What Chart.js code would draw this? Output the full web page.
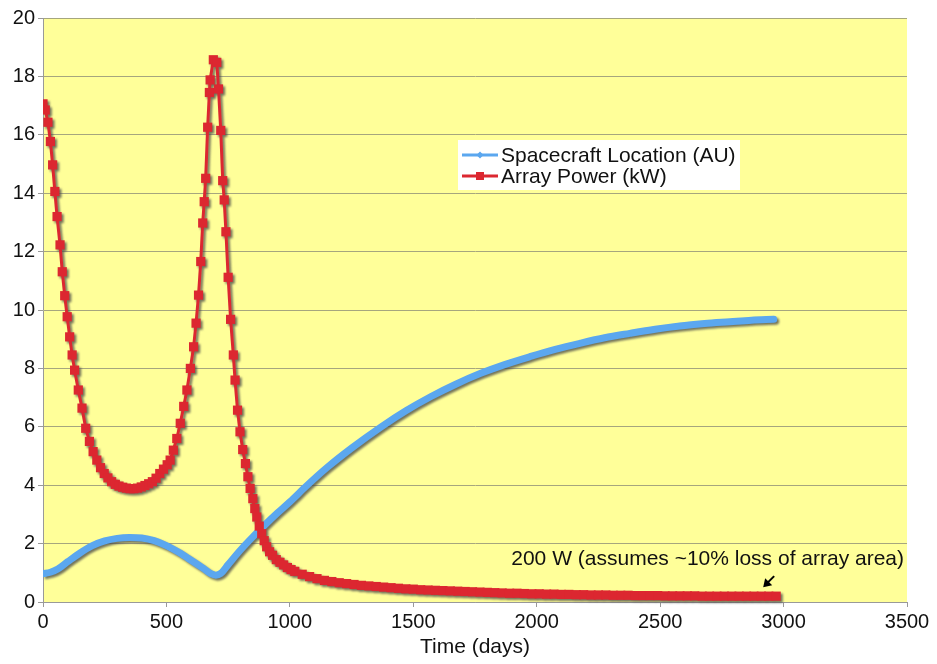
<!DOCTYPE html>
<html>
<head>
<meta charset="utf-8">
<script src="https://cdn.jsdelivr.net/npm/chart.js@4"></script>
<style>
  body { margin: 0; background: #fff; }
  #grafico { display: block; }
</style>
</head>
<body>
<canvas id="grafico" width="937" height="664"></canvas>
<script>
// Datos
const xTicks = [0, 500, 1000, 1500, 2000, 2500, 3000, 3500];
const yTicks = [0, 2, 4, 6, 8, 10, 12, 14, 16, 18, 20];

const blueDays = [0, 30, 60, 100, 150, 200, 250, 300, 350, 400,
  450, 500, 550, 600, 650, 680, 700, 720, 750, 800,
  850, 900, 950, 1000, 1068, 1150, 1250, 1370, 1470, 1570,
  1670, 1773, 1870, 1972, 2075, 2175, 2275, 2377, 2480, 2580,
  2680, 2783, 2870, 2960];
const blueAU = [0.97, 1.02, 1.13, 1.38, 1.68, 1.93, 2.09, 2.18, 2.21, 2.19,
  2.1, 1.93, 1.7, 1.43, 1.15, 0.97, 0.92, 0.98, 1.28, 1.78,
  2.23, 2.65, 3.05, 3.43, 3.98, 4.6, 5.27, 6.0, 6.55, 7.03,
  7.45, 7.83, 8.13, 8.4, 8.65, 8.86, 9.05, 9.2, 9.34, 9.45,
  9.54, 9.6, 9.65, 9.68];

const redDays = [0, 9, 20, 30, 39, 48, 57, 69, 78, 88,
  98, 108, 118, 128, 143, 158, 173, 188, 203, 218,
  233, 248, 263, 278, 293, 308, 323, 338, 353, 368,
  383, 398, 413, 428, 443, 458, 473, 488, 503, 515,
  528, 542, 556, 570, 583, 597, 610, 620, 630, 639,
  647, 653, 659, 667, 674, 677, 690, 704, 711, 720,
  728, 734, 741, 750, 760, 771, 778, 788, 798, 809,
  820, 830, 839, 850, 858, 866, 876, 886, 896, 906,
  918, 930, 945, 960, 975, 990, 1005, 1020, 1050, 1080,
  1110, 1140, 1170, 1200,
  1230, 1260, 1290, 1320, 1350, 1380, 1410, 1440, 1470, 1500,
  1530, 1560, 1590, 1620, 1650, 1680, 1710, 1740, 1770, 1800,
  1830, 1860, 1890, 1920, 1950, 1980, 2010, 2040, 2070, 2100,
  2130, 2160, 2190, 2220, 2250, 2280, 2310, 2340, 2370, 2400,
  2430, 2460, 2490, 2520, 2550, 2580, 2610, 2640, 2670, 2700,
  2730, 2760, 2790, 2820, 2850, 2880, 2910, 2940, 2970];
const redPower = [17.06, 16.85, 16.43, 15.77, 14.97, 14.06, 13.2, 12.23, 11.31, 10.49,
  9.77, 9.08, 8.46, 7.94, 7.26, 6.64, 5.95, 5.5, 5.15, 4.86,
  4.6, 4.4, 4.25, 4.12, 4.03, 3.97, 3.93, 3.9, 3.88, 3.88,
  3.9, 3.94, 3.99, 4.05, 4.12, 4.24, 4.4, 4.55, 4.7, 4.86,
  5.2, 5.6, 6.12, 6.7, 7.26, 8.0, 8.74, 9.55, 10.51, 11.66,
  12.98, 13.71, 14.51, 16.26, 17.45, 17.88, 18.57, 18.48, 17.57, 16.15,
  14.43, 13.77, 12.68, 11.12, 9.68, 8.46, 7.6, 6.57, 5.83, 5.22,
  4.74, 4.29, 3.89, 3.54, 3.2, 2.91, 2.6, 2.34, 2.1, 1.89,
  1.72, 1.6, 1.45, 1.36, 1.27, 1.18, 1.11, 1.05, 0.95, 0.87,
  0.8, 0.74, 0.7, 0.66,
  0.63, 0.6, 0.57, 0.55, 0.53, 0.51, 0.49, 0.47, 0.45, 0.44,
  0.42, 0.41, 0.4, 0.39, 0.38, 0.37, 0.36, 0.35, 0.34, 0.33,
  0.32, 0.31, 0.3, 0.3, 0.29, 0.28, 0.28, 0.27, 0.27, 0.26,
  0.26, 0.25, 0.25, 0.24, 0.24, 0.24, 0.23, 0.23, 0.23, 0.22,
  0.22, 0.22, 0.22, 0.21, 0.21, 0.21, 0.21, 0.21, 0.2, 0.2,
  0.2, 0.2, 0.2, 0.2, 0.2, 0.2, 0.2, 0.2, 0.2];

const seriesNames = ['Spacecraft Location (AU)', 'Array Power (kW)'];
const notaTexto = '200 W (assumes ~10% loss of array area)';

const AZUL = '#5ba7ef';
const ROJO = '#dc2730';
const FUENTE = '"Liberation Sans", Arial, sans-serif';

// fondo amarillo del area de trazado
const fondoPlugin = {
  id: 'fondo',
  beforeDraw(chart) {
    const { ctx, chartArea: a } = chart;
    ctx.save();
    ctx.fillStyle = '#ffff99';
    ctx.fillRect(a.left, a.top, a.right - a.left, a.bottom - a.top);
    ctx.restore();
  }
};

// sombra gris de las series: se dibujan en una capa aparte y se pegan con sombra
let capaBase = null;
const copiar = (c) => {
  const cc = document.createElement('canvas');
  cc.width = c.width;
  cc.height = c.height;
  cc.getContext('2d').drawImage(c, 0, 0);
  return cc;
};
const sombraPlugin = {
  id: 'sombra',
  beforeDatasetsDraw(chart) {
    const c = chart.canvas, ctx = chart.ctx;
    capaBase = copiar(c);
    ctx.save();
    ctx.setTransform(1, 0, 0, 1, 0, 0);
    ctx.clearRect(0, 0, c.width, c.height);
    ctx.restore();
  },
  afterDatasetsDraw(chart) {
    const c = chart.canvas, ctx = chart.ctx;
    const capaSeries = copiar(c);
    ctx.save();
    ctx.setTransform(1, 0, 0, 1, 0, 0);
    ctx.clearRect(0, 0, c.width, c.height);
    ctx.drawImage(capaBase, 0, 0);
    ctx.shadowColor = 'rgba(70,70,70,0.75)';
    ctx.shadowOffsetX = 2;
    ctx.shadowOffsetY = 2;
    ctx.shadowBlur = 2;
    ctx.drawImage(capaSeries, 0, 0);
    ctx.restore();
  }
};

// leyenda y nota
const extrasPlugin = {
  id: 'extras',
  afterDraw(chart) {
    const { ctx, scales } = chart;
    ctx.save();
    // leyenda
    ctx.fillStyle = '#fff';
    ctx.fillRect(458, 140, 282, 50);
    const filas = [
      { y: 155, color: AZUL, tipo: 'diamante' },
      { y: 176, color: ROJO, tipo: 'cuadrado' }
    ];
    ctx.font = '21px ' + FUENTE;
    ctx.textBaseline = 'middle';
    filas.forEach((f, i) => {
      ctx.strokeStyle = f.color;
      ctx.lineWidth = 3;
      ctx.beginPath();
      ctx.moveTo(462, f.y);
      ctx.lineTo(498, f.y);
      ctx.stroke();
      ctx.fillStyle = f.color;
      if (f.tipo === 'diamante') {
        ctx.beginPath();
        ctx.moveTo(480, f.y - 3.5);
        ctx.lineTo(483.5, f.y);
        ctx.lineTo(480, f.y + 3.5);
        ctx.lineTo(476.5, f.y);
        ctx.closePath();
        ctx.fill();
      } else {
        ctx.fillRect(476, f.y - 4, 8, 8);
      }
      ctx.fillStyle = '#111';
      ctx.fillText(seriesNames[i], 501, f.y + 1);
    });

    // nota 200 W
    const x = scales.x, y = scales.y;
    ctx.font = '21px ' + FUENTE;
    ctx.textAlign = 'right';
    ctx.fillStyle = '#111';
    ctx.fillText(notaTexto, x.right - 3, y.getPixelForValue(1.45));
    // flecha
    const ultimo = redDays[redDays.length - 1];
    const px = x.getPixelForValue(ultimo) - 13;
    const py = y.getPixelForValue(redPower[redPower.length - 1]) - 9;
    ctx.strokeStyle = '#000';
    ctx.fillStyle = '#000';
    ctx.lineWidth = 2;
    ctx.beginPath();
    ctx.moveTo(px + 11, py - 11);
    ctx.lineTo(px + 3, py - 3);
    ctx.stroke();
    ctx.beginPath();
    ctx.moveTo(px, py);
    ctx.lineTo(px + 9, py - 2);
    ctx.lineTo(px + 2, py - 9);
    ctx.closePath();
    ctx.fill();
    ctx.restore();
  }
};

const ctx = document.getElementById('grafico').getContext('2d');
new Chart(ctx, {
  type: 'line',
  data: {
    datasets: [
      {
        label: seriesNames[1],
        data: redDays.map((d, i) => ({ x: d, y: redPower[i] })),
        borderColor: ROJO,
        backgroundColor: ROJO,
        borderWidth: 3,
        pointStyle: 'rect',
        pointRadius: 6.5,
        pointBorderWidth: 0,
        tension: 0,
        order: 0
      },
      {
        label: seriesNames[0],
        data: blueDays.map((d, i) => ({ x: d, y: blueAU[i] })),
        borderColor: AZUL,
        backgroundColor: AZUL,
        borderWidth: 7,
        pointRadius: 0,
        cubicInterpolationMode: 'monotone',
        borderCapStyle: 'round',
        order: 1
      }
    ]
  },
  options: {
    responsive: false,
    animation: false,
    devicePixelRatio: 1,
    layout: { padding: { top: 18, right: 30, left: 0, bottom: 0 } },
    plugins: {
      legend: { display: false },
      tooltip: { enabled: false }
    },
    scales: {
      x: {
        type: 'linear',
        min: xTicks[0],
        max: xTicks[xTicks.length - 1],
        afterBuildTicks: s => { s.ticks = xTicks.map(v => ({ value: v })); },
        afterFit: s => { s.height = 62; },
        grid: { drawOnChartArea: false, tickLength: 5, color: '#999' },
        border: { color: '#999', width: 1 },
        ticks: {
          color: '#111', font: { family: FUENTE, size: 20 }, padding: 3, maxRotation: 0,
          callback: v => String(v)
        },
        title: { display: true, text: 'Time (days)', color: '#111', font: { family: FUENTE, size: 21 }, padding: { top: 0 } }
      },
      y: {
        min: yTicks[0],
        max: yTicks[yTicks.length - 1],
        afterBuildTicks: s => { s.ticks = yTicks.map(v => ({ value: v })); },
        afterFit: s => { s.width = 43; },
        grid: { color: '#a6a67e', tickColor: '#999', tickLength: 5, lineWidth: 1 },
        border: { color: '#999', width: 1 },
        ticks: { color: '#111', font: { family: FUENTE, size: 20 }, padding: 3 }
      }
    }
  },
  plugins: [fondoPlugin, sombraPlugin, extrasPlugin]
});
</script>
</body>
</html>
